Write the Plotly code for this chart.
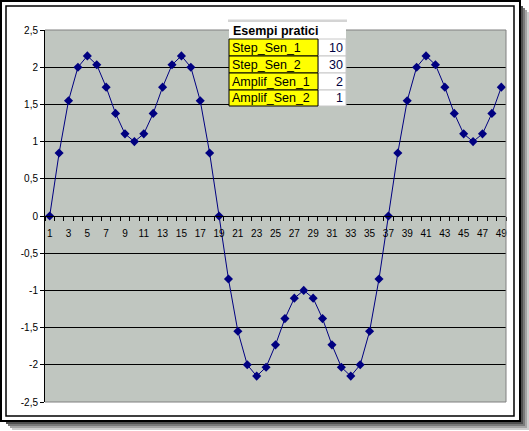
import plotly.graph_objects as go

# ---- data ----
categories = list(range(1, 50))
values = [0.0, 0.847, 1.550, 2.000, 2.152, 2.032, 1.732, 1.379, 1.104, 1.000,
          1.104, 1.379, 1.732, 2.032, 2.152, 2.000, 1.550, 0.847, 0.0,
          -0.847, -1.550, -2.000, -2.152, -2.032, -1.732, -1.379, -1.104, -1.000,
          -1.104, -1.379, -1.732, -2.032, -2.152, -2.000, -1.550, -0.847, 0.0,
          0.847, 1.550, 2.000, 2.152, 2.032, 1.732, 1.379, 1.104, 1.000,
          1.104, 1.379, 1.732]
x_tick_vals = list(range(1, 50, 2))
x_tick_labels = [str(v) for v in x_tick_vals]
y_tick_vals = [-2.5, -2, -1.5, -1, -0.5, 0, 0.5, 1, 1.5, 2, 2.5]
y_tick_labels = ["-2,5", "-2", "-1,5", "-1", "-0,5", "0", "0,5", "1", "1,5", "2", "2,5"]
table_title = "Esempi pratici"
table_labels = ["Step_Sen_1", "Step_Sen_2", "Amplif_Sen_1", "Amplif_Sen_2"]
table_values = [10, 30, 2, 1]

# ---- geometry helpers (pixel -> paper) ----
W_FIG, H_FIG = 529, 431
L, T, R, B = 45, 30, 506, 402
PW, PH = R - L, B - T


def px(x):
    return (x - L) / PW


def py(y):
    return (B - y) / PH


FONT = "Arial, Liberation Sans, sans-serif"

fig = go.Figure()
fig.add_trace(go.Scatter(
    x=categories, y=values, mode="lines+markers",
    line=dict(color="#000080", width=1),
    marker=dict(symbol="diamond", size=7, color="#000080"),
    showlegend=False, hoverinfo="x+y",
))

shapes = []
# shadow strips
for i, col in enumerate(["#505050", "#7a7a7a", "#a4a4a4", "#cecece"]):
    shapes.append(dict(type="rect", xref="paper", yref="paper",
                       x0=px(521 + 2 * i), x1=px(523 + 2 * i), y0=py(6 + 2 * i), y1=py(423 + 2 * i),
                       fillcolor=col, line=dict(width=0), layer="below"))
    shapes.append(dict(type="rect", xref="paper", yref="paper",
                       x0=px(6 + 2 * i), x1=px(523 + 2 * i), y0=py(422 + 2 * i), y1=py(424 + 2 * i),
                       fillcolor=col, line=dict(width=0), layer="below"))
# outer and inner frames
shapes.append(dict(type="rect", xref="paper", yref="paper",
                   x0=px(1), x1=px(520), y0=py(1), y1=py(421),
                   line=dict(color="black", width=2), layer="above"))
shapes.append(dict(type="rect", xref="paper", yref="paper",
                   x0=px(6), x1=px(514), y0=py(6), y1=py(416),
                   line=dict(color="black", width=1.5), layer="above"))
# plot area gray border (top, right, bottom)
for (x0, y0, x1, y1) in [(0, 1, 1, 1), (1, 0, 1, 1), (0, 0, 1, 0)]:
    shapes.append(dict(type="line", xref="paper", yref="paper", x0=x0, y0=y0, x1=x1, y1=y1,
                       line=dict(color="#808080", width=1), layer="above"))

annotations = []
# table
tx0, tmid, tx1 = 229, 318, 346
shapes.append(dict(type="rect", xref="paper", yref="paper",
                   x0=px(tx0 - 1), x1=px(tx1 + 1), y0=py(22), y1=py(19.5),
                   fillcolor="#d4d4d4", line=dict(width=0), layer="above"))
shapes.append(dict(type="rect", xref="paper", yref="paper",
                   x0=px(tx0), x1=px(tx1), y0=py(39), y1=py(22),
                   fillcolor="white", line=dict(width=0), layer="above"))
annotations.append(dict(xref="paper", yref="paper", x=px(tx0 + 2), y=py(30.5),
                        xanchor="left", yanchor="middle", showarrow=False,
                        text="<b>" + table_title + "</b>",
                        font=dict(family=FONT, size=12.5, color="black")))
row_edges = [39, 56, 73, 90, 106]
for i, (lab, val) in enumerate(zip(table_labels, table_values)):
    y0, y1 = row_edges[i], row_edges[i + 1]
    shapes.append(dict(type="rect", xref="paper", yref="paper",
                       x0=px(tmid), x1=px(tx1), y0=py(y1), y1=py(y0),
                       fillcolor="white", line=dict(color="#c8c8c8", width=1), layer="above"))
    shapes.append(dict(type="rect", xref="paper", yref="paper",
                       x0=px(tx0), x1=px(tmid), y0=py(y1), y1=py(y0),
                       fillcolor="#ffff00", line=dict(color="black", width=1), layer="above"))
    annotations.append(dict(xref="paper", yref="paper", x=px(tx0 + 1), y=py((y0 + y1) / 2 + 0.5),
                            xanchor="left", yanchor="middle", showarrow=False, text=lab,
                            font=dict(family=FONT, size=12.5, color="black")))
    annotations.append(dict(xref="paper", yref="paper", x=px(tx1 - 1), y=py((y0 + y1) / 2 + 0.5),
                            xanchor="right", yanchor="middle", showarrow=False, text=str(val),
                            font=dict(family=FONT, size=12.5, color="#000040")))

fig.update_layout(
    width=W_FIG, height=H_FIG,
    margin=dict(l=L, r=W_FIG - R, t=T, b=H_FIG - B, pad=0),
    paper_bgcolor="white", plot_bgcolor="#c0c6c0",
    font=dict(family=FONT, size=10, color="black"),
    xaxis=dict(range=[0.5, 49.5], tickmode="array", tickvals=x_tick_vals, ticktext=x_tick_labels,
               ticks="", showgrid=False, zeroline=False, showline=True, linecolor="black",
               linewidth=1, anchor="free", position=0.5, ticklabelstandoff=8,
               tickfont=dict(family=FONT, size=10, color="black"),
               minor=dict(tickmode="array", tickvals=[c + 0.5 for c in range(0, 50)],
                          ticks="outside", ticklen=4, tickcolor="black", tickwidth=1, showgrid=False)),
    yaxis=dict(range=[-2.5, 2.5], tickmode="array", tickvals=y_tick_vals, ticktext=y_tick_labels,
               ticks="outside", ticklen=4, tickcolor="black", showline=True, linecolor="black",
               linewidth=1, showgrid=True, gridcolor="black", gridwidth=1, zeroline=False,
               tickfont=dict(family=FONT, size=10, color="black")),
    shapes=shapes, annotations=annotations,
)

fig.write_html("out.html", config={"displayModeBar": False},
               post_script="document.body.style.margin='0';document.body.style.overflow='hidden';")
